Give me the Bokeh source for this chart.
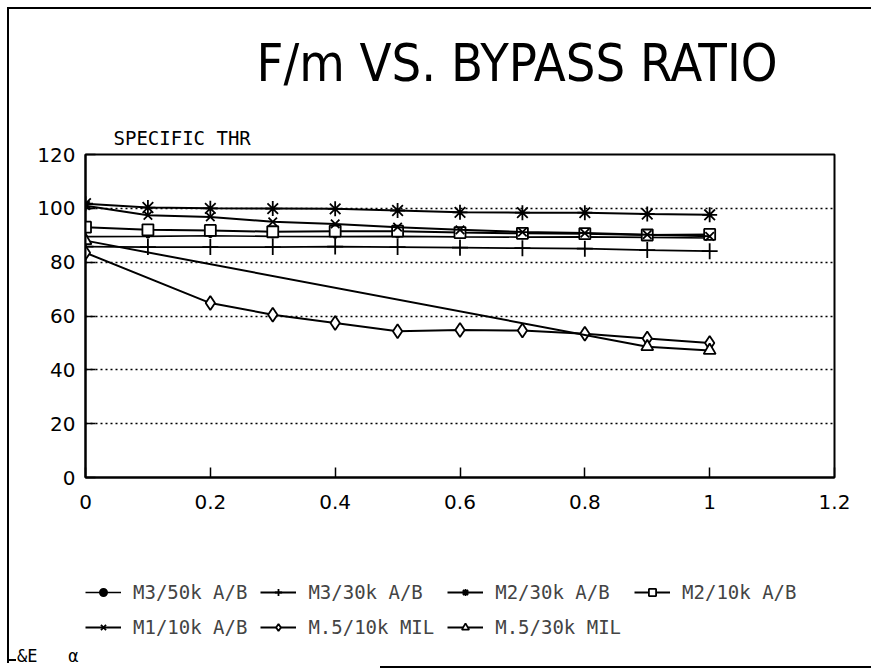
from bokeh.plotting import figure
from bokeh.models import Range1d, FixedTicker, Legend, LegendItem, Title
from bokeh.layouts import column
from bokeh.embed import file_html
from bokeh.resources import INLINE

# ---------------- data ----------------
bypass = [0.0, 0.1, 0.2, 0.3, 0.4, 0.5, 0.6, 0.7, 0.8, 0.9, 1.0]

m3_50k_ab = [89.5, 89.6, 89.8, 89.6, 89.5, 89.6, 89.4, 89.3, 89.4, 89.2, 89.0]
m3_30k_ab = [85.8, 85.6, 85.6, 85.6, 85.8, 85.6, 85.4, 85.2, 85.0, 84.5, 84.1]
m2_30k_ab = [101.7, 100.3, 100.0, 99.9, 99.8, 99.2, 98.5, 98.4, 98.4, 97.9, 97.6]
m2_10k_ab = [93.0, 92.0, 91.8, 91.3, 91.5, 91.5, 91.0, 90.7, 90.6, 90.1, 90.3]
m1_10k_ab = [101.0, 97.4, 96.8, 95.0, 94.2, 93.0, 92.0, 91.2, 90.8, 90.2, 89.6]

m05_10k_bpr = [0.0, 0.2, 0.3, 0.4, 0.5, 0.6, 0.7, 0.8, 0.9, 1.0]
m05_10k_mil = [83.5, 64.8, 60.5, 57.4, 54.3, 54.8, 54.6, 53.4, 51.6, 50.0]

m05_30k_bpr = [0.0, 0.9, 1.0]
m05_30k_mil = [88.0, 48.6, 47.2]

series_names = ["M3/50k A/B", "M3/30k A/B", "M2/30k A/B", "M2/10k A/B",
                "M1/10k A/B", "M.5/10k MIL", "M.5/30k MIL"]

x_ticks = [0.0, 0.2, 0.4, 0.6, 0.8, 1.0, 1.2]
x_tick_labels = ["0", "0.2", "0.4", "0.6", "0.8", "1", "1.2"]
y_ticks = [0, 20, 40, 60, 80, 100, 120]

title_text = "F/m VS. BYPASS RATIO"
y_title_text = "SPECIFIC THR"
footer_text = "&E\u00a0\u00a0\u00a0α"

TICK_FONT = "DejaVu Sans"
MONO = "DejaVu Sans Mono"
NARROW = "'Liberation Sans Narrow', 'DejaVu Sans Condensed', sans-serif"
K = "black"

styles = [
    dict(marker="circle", size=3, lw=1.6, fill=K),
    dict(marker="cross", size=16, lw=1.8, fill="white"),
    dict(marker="asterisk", size=15, lw=2, fill="white"),
    dict(marker="square", size=11, lw=2, fill="white"),
    dict(marker="x", size=12, lw=2, fill="white"),
    dict(marker="diamond", size=14, lw=2, fill="white"),
    dict(marker="triangle", size=12, lw=2, fill="white"),
]
series_x = [bypass, bypass, bypass, bypass, bypass, m05_10k_bpr, m05_30k_bpr]
series_y = [m3_50k_ab, m3_30k_ab, m2_30k_ab, m2_10k_ab, m1_10k_ab,
            m05_10k_mil, m05_30k_mil]

# ---------------- main chart ----------------
p = figure(frame_width=749, frame_height=323, output_backend="svg",
           toolbar_location=None,
           x_range=Range1d(0, 1.2), y_range=Range1d(0, 120),
           min_border_left=85, min_border_right=37,
           min_border_top=154, min_border_bottom=53)

p.border_fill_color = None
p.background_fill_color = "white"
p.styles = {
    "background": (
        "linear-gradient(#000,#000) 7px 7px / 2px 523px no-repeat, "
        "linear-gradient(#000,#000) 7px 7px / 864px 2px no-repeat, #fff"
    )
}

p.outline_line_color = K
p.outline_line_width = 2

p.xgrid.visible = False
p.ygrid.grid_line_color = K
p.ygrid.grid_line_dash = "2 3"
p.ygrid.grid_line_width = 1.3
p.ygrid.ticker = FixedTicker(ticks=y_ticks)

for ax in (p.xaxis[0], p.yaxis[0]):
    ax.axis_line_color = K
    ax.axis_line_width = 2
    ax.major_tick_in = 10
    ax.major_tick_out = 0
    ax.major_tick_line_width = 1.5
    ax.major_tick_line_color = K
    ax.minor_tick_line_color = None
    ax.major_label_text_font = TICK_FONT
    ax.major_label_text_font_size = "20px"
    ax.major_label_text_color = K

p.xaxis.ticker = FixedTicker(ticks=x_ticks)
p.xaxis.major_label_overrides = dict(zip(x_ticks, x_tick_labels))
p.xaxis.major_label_standoff = 17
p.yaxis.ticker = FixedTicker(ticks=y_ticks)
p.yaxis.major_label_standoff = 10

for xs, ys, st in zip(series_x, series_y, styles):
    p.line(xs, ys, line_color=K, line_width=st["lw"])
    p.scatter(xs, ys, marker=st["marker"], size=st["size"], line_color=K,
              fill_color=st["fill"], line_width=1.8)

p.add_layout(Title(text=y_title_text, align="left", offset=28, standoff=11,
                   text_font=MONO, text_font_size="19px",
                   text_font_style="normal", text_color=K), "above")
p.add_layout(Title(text=title_text, align="left", offset=171, standoff=53,
                   text_font=NARROW, text_font_size="52px",
                   text_font_style="normal", text_color=K), "above")

# ---------------- legend / footer strip (page pixels as coordinates) ----------------
q = figure(width=871, height=140, output_backend="svg", toolbar_location=None,
           x_range=Range1d(85, 834), y_range=Range1d(140, 0),
           x_axis_type=None, y_axis_location="left",
           min_border=0, min_border_left=85, min_border_right=37,
           min_border_top=0, min_border_bottom=0)
q.grid.visible = False
q.outline_line_color = None
q.border_fill_color = None
q.background_fill_color = None
q.styles = {
    "background": (
        "linear-gradient(#000,#000) 7px 0px / 2px 133px no-repeat, "
        "linear-gradient(#000,#000) 7px 129px / 9px 2px no-repeat, "
        "linear-gradient(#000,#000) 380px 136px / 491px 2px no-repeat, #fff"
    )
}

# footer note as the strip's single left-axis label
qa = q.yaxis[0]
qa.ticker = FixedTicker(ticks=[125])
qa.major_label_overrides = {125: footer_text}
qa.axis_line_color = None
qa.major_tick_line_color = None
qa.minor_tick_line_color = None
qa.major_tick_in = 0
qa.major_tick_out = 0
qa.major_label_standoff = 7
qa.major_label_text_font = MONO
qa.major_label_text_font_size = "17px"
qa.major_label_text_color = K

# legend entries: the same series (their data lie outside this strip's view)
items = []
for name, xs, ys, st in zip(series_names, series_x, series_y, styles):
    ln = q.line(xs, ys, line_color=K, line_width=st["lw"])
    sc = q.scatter(xs, ys, marker=st["marker"], size=st["size"], line_color=K,
                   fill_color=st["fill"], line_width=1.8)
    items.append(LegendItem(label=name, renderers=[ln, sc]))

legend = Legend(items=items, location=(0, 32), orientation="horizontal",
                ncols=4, border_line_color=None, background_fill_alpha=0,
                label_text_font=MONO, label_text_font_size="19px",
                glyph_width=36, glyph_height=18, label_standoff=12,
                spacing=13, padding=0, margin=0, label_height=18)
q.add_layout(legend, "center")

layout = column(p, q, spacing=0)
open("out.html", "w").write(file_html(layout, INLINE))
